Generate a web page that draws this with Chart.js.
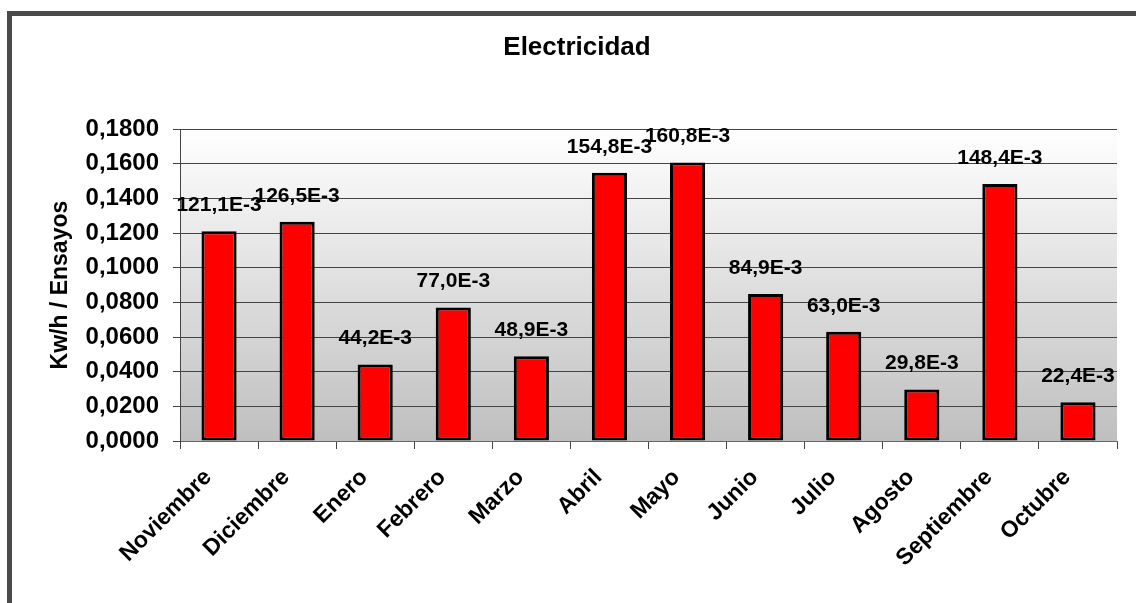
<!DOCTYPE html>
<html><head><meta charset="utf-8">
<script src="https://cdn.jsdelivr.net/npm/chart.js@4"></script>
<style>
html,body{margin:0;padding:0;background:#fff;}
#wrap{position:relative;width:1136px;height:603px;overflow:hidden;}
#frame{position:absolute;left:7px;top:11px;right:-10px;bottom:-10px;border-top:5px solid #4a4a4a;border-left:5px solid #4a4a4a;pointer-events:none;}
canvas{display:block;}
</style></head><body>
<div id="wrap"><canvas id="c" width="1136" height="603"></canvas><div id="frame"></div></div>
<script>
const categories = ['Noviembre','Diciembre','Enero','Febrero','Marzo','Abril','Mayo','Junio','Julio','Agosto','Septiembre','Octubre'];
const values = [0.1211, 0.1265, 0.0442, 0.0770, 0.0489, 0.1548, 0.1608, 0.0849, 0.0630, 0.0298, 0.1484, 0.0224];
const yMin = 0, yMax = 0.18, yStep = 0.02;
const titleText = 'Electricidad';
const yTitleText = 'Kw/h / Ensayos';

Chart.defaults.font.family = '"Liberation Sans", Arial, sans-serif';
Chart.defaults.color = '#000';

const fmtTick = v => (Math.round(v * 10000) / 10000).toFixed(4).replace('.', ',');
const fmtLabel = v => (v * 1000).toFixed(1).replace('.', ',') + 'E-3';

const bgPlugin = {
  id: 'bg',
  beforeDraw(chart) {
    const {ctx, chartArea: {left, top, right, bottom}} = chart;
    const g = ctx.createLinearGradient(0, top, 0, bottom);
    g.addColorStop(0, '#ffffff');
    g.addColorStop(1, '#bfbfbf');
    ctx.save();
    ctx.fillStyle = g;
    ctx.fillRect(left, top, right - left, bottom - top);
    ctx.restore();
  }
};

const labelPlugin = {
  id: 'vlabels',
  afterDatasetsDraw(chart) {
    const {ctx} = chart;
    const meta = chart.getDatasetMeta(0);
    ctx.save();
    ctx.font = 'bold 21px "Liberation Sans", Arial, sans-serif';
    ctx.fillStyle = '#000';
    ctx.textAlign = 'center';
    ctx.textBaseline = 'middle';
    meta.data.forEach((bar, i) => {
      ctx.fillText(fmtLabel(values[i]), bar.x, bar.y - 26);
    });
    ctx.restore();
  }
};

new Chart(document.getElementById('c'), {
  type: 'bar',
  data: {
    labels: categories,
    datasets: [{
      data: values,
      backgroundColor: '#ff0000',
      borderColor: '#000000',
      borderWidth: 3,
      borderSkipped: false,
      barPercentage: 0.45,
      categoryPercentage: 1.0
    }]
  },
  options: {
    responsive: false,
    animation: false,
    devicePixelRatio: 1,
    layout: {padding: {left: 18, top: 0, right: 0, bottom: 0}},
    plugins: {
      legend: {display: false},
      tooltip: {enabled: false},
      title: {
        display: true,
        text: titleText,
        font: {size: 26, weight: 'bold'},
        color: '#000',
        padding: {top: 32, bottom: 66}
      }
    },
    scales: {
      x: {
        offset: true,
        grid: {drawOnChartArea: false, drawTicks: true, tickLength: 8, color: '#444', offset: true},
        border: {color: '#666'},
        ticks: {maxRotation: 45, minRotation: 45, autoSkip: false, font: {size: 23, weight: 'bold'}, color: '#000', padding: 15, labelOffset: -11},
        afterFit(s) { s.height = 162; }
      },
      y: {
        min: yMin, max: yMax,
        ticks: {stepSize: yStep, callback: v => fmtTick(v), font: {size: 24, weight: 'bold'}, color: '#000', padding: 14},
        grid: {color: '#444', tickLength: 7},
        border: {color: '#444'},
        title: {display: true, text: yTitleText, font: {size: 23, weight: 'bold'}, color: '#000', padding: {top: 29, bottom: 0}},
        afterFit(s) { s.width = 162; }
      },
      y2: {
        type: 'linear',
        position: 'right',
        display: true,
        grid: {display: false, drawTicks: false},
        ticks: {display: false},
        border: {display: false},
        afterFit(s) { s.width = 19; }
      }
    }
  },
  plugins: [bgPlugin, labelPlugin]
});
</script>
</body></html>
